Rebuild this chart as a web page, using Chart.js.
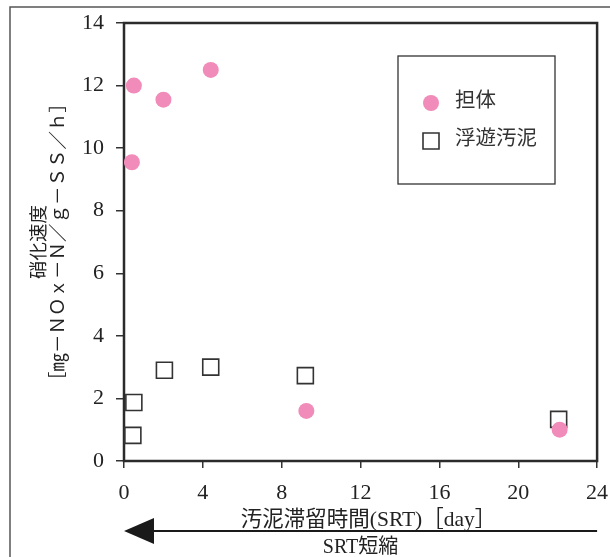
<!DOCTYPE html>
<html lang="ja">
<head>
<meta charset="utf-8">
<title>硝化速度とSRT</title>
<script src="https://cdn.jsdelivr.net/npm/chart.js@4/dist/chart.umd.min.js"></script>
<style>
  html, body { margin: 0; padding: 0; background: #ffffff; }
  #wrap { width: 610px; height: 557px; }
</style>
</head>
<body>
<div id="wrap"><canvas id="chart" width="610" height="557"></canvas></div>
<script>
// 担体 (carrier-attached sludge): SRT [day] and nitrification rate
const srtCarrier = [0.4, 0.5, 2.0, 4.4, 9.25, 22.1];
const rateCarrier = [9.55, 12.0, 11.55, 12.5, 1.6, 1.0];

// 浮遊汚泥 (suspended sludge)
const srtSuspended = [0.45, 0.5, 2.05, 4.4, 9.2, 22.05];
const rateSuspended = [0.82, 1.87, 2.9, 3.0, 2.73, 1.33];

// axis ticks
const xTicks = [0, 4, 8, 12, 16, 20, 24];
const yTicks = [0, 2, 4, 6, 8, 10, 12, 14];

const seriesLabels = ['担体', '浮遊汚泥'];
const xTitle = '汚泥滞留時間(SRT)［day］';
const yTitle = ['硝化速度', '［㎎－ＮＯｘ－Ｎ／ｇ－ＳＳ／ｈ］'];
const arrowLabel = 'SRT短縮';

const SERIF = '"Liberation Serif", "Noto Sans CJK JP", serif';
const CJK = '"Liberation Serif", "Noto Sans CJK JP", sans-serif';
const INK = '#222222';

const toPoints = (xs, ys) => xs.map((x, i) => ({ x, y: ys[i] }));

// frame, plot box, legend box, x-axis title and the "SRT短縮" arrow
const decorations = {
  id: 'decorations',
  beforeDatasetsDraw(chart) {
    const { ctx, chartArea: a } = chart;
    ctx.save();
    // outer figure frame (left and top edges)
    ctx.strokeStyle = '#555555';
    ctx.lineWidth = 1.5;
    ctx.beginPath();
    ctx.moveTo(10, chart.height);
    ctx.lineTo(10, 7);
    ctx.lineTo(chart.width, 7);
    ctx.stroke();
    // plot box
    ctx.strokeStyle = '#2b2b2b';
    ctx.lineWidth = 2.5;
    ctx.strokeRect(a.left, a.top, a.right - a.left, a.bottom - a.top);
    ctx.restore();
  },
  afterDatasetsDraw(chart) {
    const { ctx, chartArea: a } = chart;
    const midX = (a.left + a.right) / 2;
    ctx.save();
    // legend box
    const box = { l: 398, t: 56, r: 555, b: 184 };
    ctx.fillStyle = '#ffffff';
    ctx.fillRect(box.l, box.t, box.r - box.l, box.b - box.t);
    ctx.strokeStyle = '#333333';
    ctx.lineWidth = 1.3;
    ctx.strokeRect(box.l, box.t, box.r - box.l, box.b - box.t);
    const rows = [103, 141];
    chart.data.datasets.forEach((ds, i) => {
      const cy = rows[i];
      const cx = 431;
      ctx.beginPath();
      if (ds.pointStyle === 'rect') {
        ctx.fillStyle = ds.pointBackgroundColor;
        ctx.strokeStyle = ds.pointBorderColor;
        ctx.lineWidth = ds.pointBorderWidth;
        ctx.rect(cx - 8, cy - 8, 16, 16);
        ctx.fill();
        ctx.stroke();
      } else {
        ctx.fillStyle = ds.pointBackgroundColor;
        ctx.arc(cx, cy, 8, 0, Math.PI * 2);
        ctx.fill();
      }
      ctx.fillStyle = '#333333';
      ctx.font = '20.5px ' + CJK;
      ctx.textAlign = 'left';
      ctx.textBaseline = 'middle';
      ctx.fillText(ds.label, 455, cy - 1);
    });
    // x-axis title
    ctx.fillStyle = INK;
    ctx.font = '21.5px ' + CJK;
    ctx.textAlign = 'center';
    ctx.textBaseline = 'middle';
    ctx.fillText(xTitle, midX + 8, 520);
    // arrow pointing towards shorter SRT
    const ay = 531;
    ctx.strokeStyle = '#1a1a1a';
    ctx.fillStyle = '#1a1a1a';
    ctx.lineWidth = 2;
    ctx.beginPath();
    ctx.moveTo(a.right, ay);
    ctx.lineTo(a.left + 28, ay);
    ctx.stroke();
    ctx.beginPath();
    ctx.moveTo(a.left, ay);
    ctx.lineTo(a.left + 30, ay - 13);
    ctx.lineTo(a.left + 30, ay + 13);
    ctx.closePath();
    ctx.fill();
    ctx.fillStyle = INK;
    ctx.font = '20px ' + CJK;
    ctx.fillText(arrowLabel, midX, 548);
    ctx.restore();
  }
};

new Chart(document.getElementById('chart'), {
  type: 'scatter',
  data: {
    datasets: [
      {
        label: seriesLabels[0],
        data: toPoints(srtCarrier, rateCarrier),
        pointStyle: 'circle',
        pointRadius: 8,
        pointBorderWidth: 0,
        pointBackgroundColor: '#F18BB9',
        pointBorderColor: '#F18BB9',
        backgroundColor: '#F18BB9',
        borderColor: '#F18BB9'
      },
      {
        label: seriesLabels[1],
        data: toPoints(srtSuspended, rateSuspended),
        pointStyle: 'rect',
        pointRadius: 11.3,
        pointBorderWidth: 1.6,
        pointBackgroundColor: '#ffffff',
        pointBorderColor: '#333333',
        backgroundColor: '#ffffff',
        borderColor: '#333333'
      }
    ]
  },
  options: {
    responsive: false,
    animation: false,
    devicePixelRatio: 1,
    layout: { padding: { left: 10, right: 10, top: 23, bottom: 0 } },
    plugins: {
      legend: { display: false },
      tooltip: { enabled: false }
    },
    scales: {
      x: {
        type: 'linear',
        min: xTicks[0],
        max: xTicks[xTicks.length - 1],
        afterBuildTicks(scale) { scale.ticks = xTicks.map(v => ({ value: v })); },
        afterFit(scale) { scale.height = 96; scale.paddingLeft = 0; scale.paddingRight = 0; },
        border: { display: false },
        grid: { drawOnChartArea: false, drawTicks: true, tickLength: 7, lineWidth: 1.5, color: '#333333' },
        ticks: { padding: 12, color: INK, font: { family: SERIF, size: 22 }, maxRotation: 0 },
        title: { display: false }
      },
      y: {
        type: 'linear',
        min: yTicks[0],
        max: yTicks[yTicks.length - 1],
        afterBuildTicks(scale) { scale.ticks = yTicks.map(v => ({ value: v })); },
        afterFit(scale) { scale.width = 114; scale.paddingTop = 0; scale.paddingBottom = 0; },
        border: { display: false },
        grid: { drawOnChartArea: false, drawTicks: true, tickLength: 8, lineWidth: 1.5, color: '#333333' },
        ticks: { padding: 12, color: INK, font: { family: SERIF, size: 22 } },
        title: {
          display: true,
          text: yTitle,
          color: INK,
          font: { family: CJK, size: 18.5, lineHeight: 1.03 },
          padding: { top: 20.5, bottom: 0 }
        }
      }
    }
  },
  plugins: [decorations]
});
</script>
</body>
</html>
